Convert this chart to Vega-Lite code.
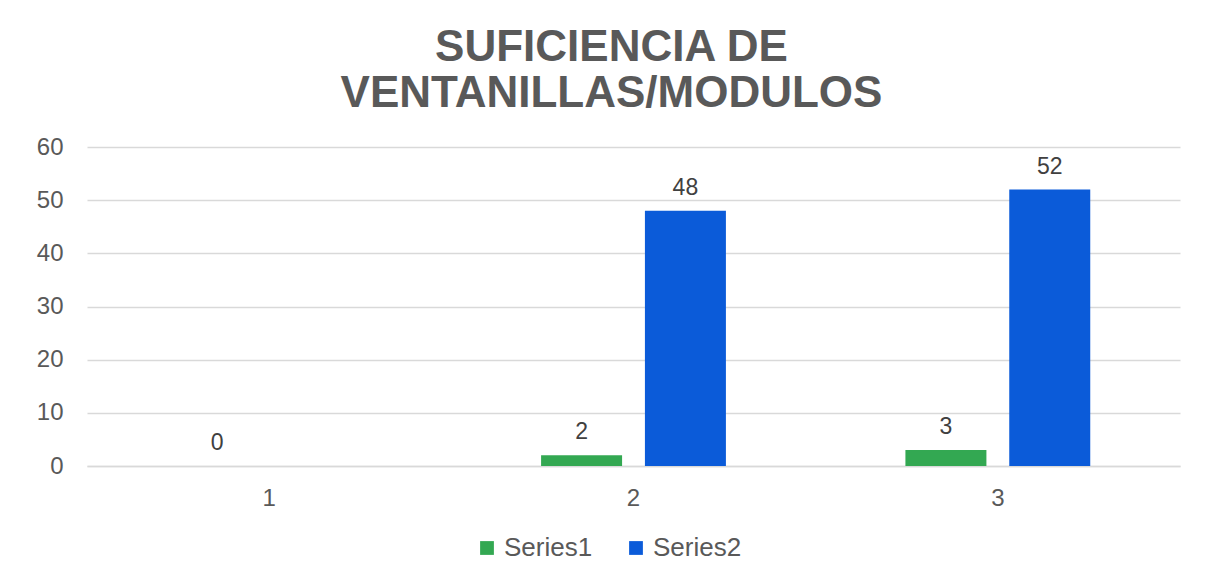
{
  "$schema": "https://vega.github.io/schema/vega-lite/v6.json",
  "width": 1093,
  "height": 319,
  "autosize": {"type": "none"},
  "padding": {"left": 87, "top": 147, "right": 32, "bottom": 109},
  "background": "white",
  "config": {
    "font": "Liberation Sans",
    "view": {"stroke": null}
  },
  "title": {
    "text": ["SUFICIENCIA DE", "VENTANILLAS/MODULOS"],
    "fontSize": 44,
    "lineHeight": 46,
    "fontWeight": "bold",
    "color": "#595959",
    "font": "Liberation Sans",
    "anchor": "middle",
    "dx": -22,
    "offset": 19
  },
  "data": {
    "values": [
      {"category": "1", "series": "Series1", "value": 0},
      {"category": "2", "series": "Series1", "value": 2},
      {"category": "2", "series": "Series2", "value": 48},
      {"category": "3", "series": "Series1", "value": 3},
      {"category": "3", "series": "Series2", "value": 52}
    ]
  },
  "encoding": {
    "x": {
      "field": "category",
      "type": "nominal",
      "scale": {"paddingInner": 0.43, "paddingOuter": 0.215},
      "axis": {
        "title": null,
        "labelAngle": 0,
        "labelFontSize": 24,
        "labelColor": "#595959",
        "labelPadding": 20,
        "ticks": false,
        "domainColor": "#d9d9d9",
        "domainWidth": 1.5,
        "grid": false
      }
    },
    "xOffset": {
      "field": "series",
      "type": "nominal",
      "scale": {"paddingInner": 0.22, "paddingOuter": 0.11}
    },
    "y": {
      "field": "value",
      "type": "quantitative",
      "scale": {"domain": [0, 60]},
      "axis": {
        "title": null,
        "values": [0, 10, 20, 30, 40, 50, 60],
        "labelFontSize": 24,
        "labelColor": "#595959",
        "labelPadding": 24,
        "ticks": false,
        "domain": false,
        "gridColor": "#d9d9d9",
        "gridWidth": 1.5
      }
    }
  },
  "layer": [
    {
      "mark": {"type": "bar"},
      "encoding": {
        "color": {
          "field": "series",
          "type": "nominal",
          "scale": {"domain": ["Series1", "Series2"], "range": ["#33A852", "#0B5BD9"]},
          "legend": {
            "title": null,
            "orient": "none",
            "legendX": 387,
            "legendY": 388,
            "direction": "horizontal",
            "symbolType": "square",
            "symbolSize": 190,
            "symbolStrokeWidth": 0,
            "labelFontSize": 26,
            "labelColor": "#595959",
            "columnPadding": 30
          }
        }
      }
    },
    {
      "mark": {"type": "text", "dy": -16, "baseline": "alphabetic", "fontSize": 23, "color": "#404040"},
      "encoding": {
        "text": {"field": "value", "type": "quantitative"}
      }
    }
  ]
}
